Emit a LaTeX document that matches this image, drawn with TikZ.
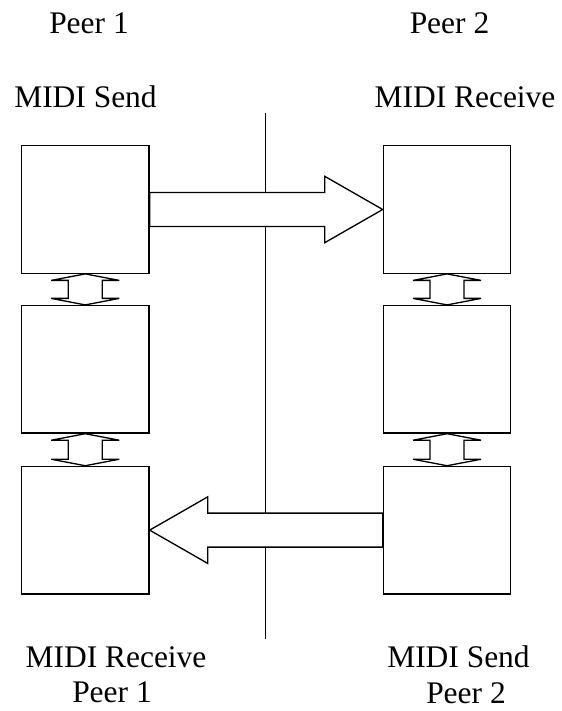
\documentclass[tikz,border=0pt]{standalone}
\usepackage{fontspec}
\setmainfont{Liberation Serif}
\usetikzlibrary{positioning, calc}

\begin{document}
\begin{tikzpicture}[
    unit/.style={draw, line width=0.75pt, minimum width=2.55cm, minimum height=2.55cm, inner sep=0pt},
    label/.style={font=\fontsize{17.9}{21}\selectfont, anchor=base, inner sep=0pt},
    block/.style={draw, fill=white, line width=0.75pt, line join=miter},
    link/.style={draw, fill=white, line width=0.75pt, to path={
        (\tikztostart.south) -- ++(-0.68,-0.13) -- ++(0.34,0)
        -- ($(\tikztotarget.north)+(-0.34,0.13)$) -- ++(-0.34,0) -- (\tikztotarget.north)
        -- ++(0.68,0.13) -- ++(-0.34,0)
        -- ($(\tikztostart.south)+(0.34,-0.13)$) -- ++(0.34,0) -- cycle}},
]
\useasboundingbox (0,0) rectangle (11.22,14.22);

% Peer 1 column
\node[unit] (sendA) at (1.705,10.03) {};
\node[unit, below=0.62cm of sendA] (midA) {};
\node[unit, below=0.64cm of midA] (recvA) {};

% Peer 2 column
\node[unit, right=4.66cm of sendA] (recvB) {};
\node[unit, below=0.62cm of recvB] (midB) {};
\node[unit, below=0.64cm of midB] (sendB) {};

% Divider between peers
\coordinate (divtop) at (5.31,11.96);
\coordinate (divbot) at (5.31,1.44);
\draw[line width=0.75pt] (divtop) -- (divbot);

% Links inside each peer
\path[link] (sendA) to (midA);
\path[link] (midA) to (recvA);
\path[link] (recvB) to (midB);
\path[link] (midB) to (sendB);

% Transfers across the divider
\draw[block] ($(sendA.east)+(0,0.34)$) -- ($(recvB.west)+(-1.16,0.34)$) -- ++(0,0.325)
    -- (recvB.west) -- ++(-1.16,-0.665) -- ++(0,0.325) -- ($(sendA.east)+(0,-0.34)$) -- cycle;
\draw[block] ($(sendB.west)+(0,0.34)$) -- ($(recvA.east)+(1.16,0.34)$) -- ++(0,0.325)
    -- (recvA.east) -- ++(1.16,-0.665) -- ++(0,0.325) -- ($(sendB.west)+(0,-0.34)$) -- cycle;

% Labels
\node[label] (peerAtop) at (1.78,13.554) {Peer 1};
\node[label] (peerBtop) at (8.99,13.554) {Peer 2};
\node[label] (sendAtxt) at (1.71,12.074) {MIDI Send};
\node[label] (recvBtxt) at (9.30,12.074) {MIDI Receive};
\node[label] (recvAtxt) at (2.32,0.866) {MIDI Receive};
\node[label] (peerAbot) at (2.24,0.166) {Peer 1};
\node[label] (sendBtxt) at (9.17,0.866) {MIDI Send};
\node[label] (peerBbot) at (9.32,0.154) {Peer 2};

\end{tikzpicture}
\end{document}
